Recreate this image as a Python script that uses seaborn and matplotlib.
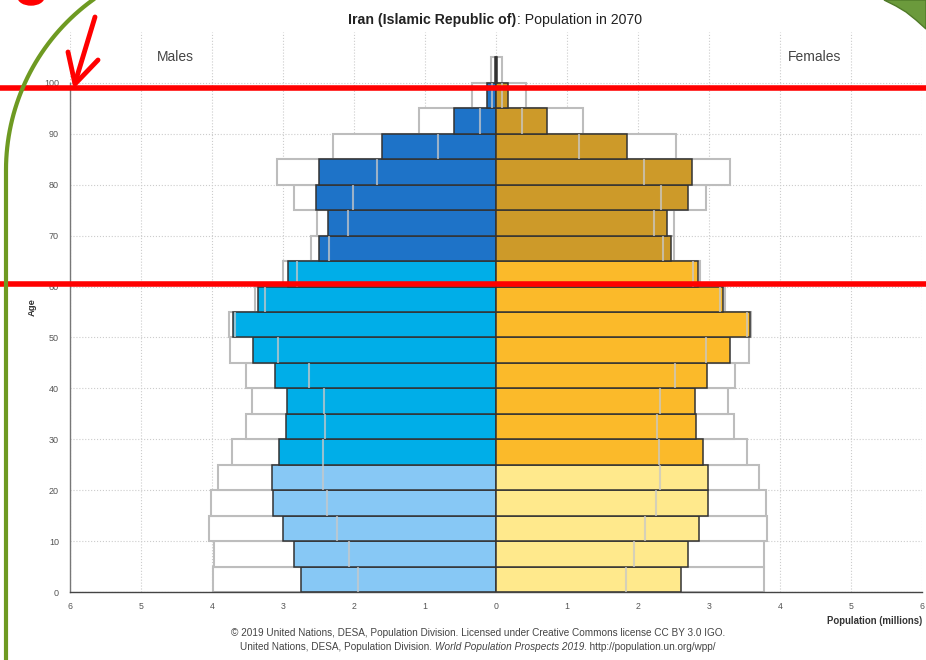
import numpy as np
import pandas as pd
import seaborn as sns
import matplotlib
matplotlib.use("Agg")
import matplotlib.pyplot as plt
from matplotlib.lines import Line2D
from matplotlib.patches import Polygon, Ellipse

age_groups = ['0-4', '5-9', '10-14', '15-19', '20-24', '25-29', '30-34', '35-39',
              '40-44', '45-49', '50-54', '55-59', '60-64', '65-69', '70-74', '75-79',
              '80-84', '85-89', '90-94', '95-99', '100+']
broad_group = ['0-24'] * 5 + ['25-64'] * 8 + ['65+'] * 8

# population in millions, 2070 (filled bars)
males_2070 = [2.75, 2.85, 3.00, 3.14, 3.15, 3.05, 2.96, 2.94, 3.11, 3.42, 3.71,
              3.35, 2.93, 2.50, 2.36, 2.54, 2.50, 1.60, 0.59, 0.13, 0.02]
females_2070 = [2.60, 2.70, 2.86, 2.98, 2.99, 2.91, 2.82, 2.80, 2.97, 3.29, 3.58,
                3.20, 2.85, 2.47, 2.41, 2.70, 2.76, 1.85, 0.72, 0.17, 0.02]
# grey outline boxes
males_outline = [3.98, 3.97, 4.04, 4.02, 3.91, 3.72, 3.52, 3.44, 3.52, 3.74, 3.76,
                 3.39, 3.00, 2.60, 2.52, 2.85, 3.09, 2.29, 1.09, 0.34, 0.075]
females_outline = [3.77, 3.77, 3.81, 3.80, 3.70, 3.53, 3.35, 3.27, 3.36, 3.57, 3.59,
                   3.22, 2.87, 2.50, 2.51, 2.96, 3.29, 2.54, 1.23, 0.42, 0.09]
# light marker lines inside the bars
males_marker = [1.94, 2.07, 2.24, 2.38, 2.43, 2.43, 2.41, 2.42, 2.64, 3.07, 3.68,
                3.25, 2.80, 2.35, 2.09, 2.02, 1.67, 0.81, 0.22, 0.06, 0.0]
females_marker = [1.83, 1.95, 2.10, 2.25, 2.31, 2.30, 2.27, 2.31, 2.52, 2.96, 3.53,
                  3.15, 2.78, 2.35, 2.23, 2.32, 2.09, 1.17, 0.36, 0.08, 0.0]

x_ticks = [-6, -5, -4, -3, -2, -1, 0, 1, 2, 3, 4, 5, 6]
y_ticks = [0, 10, 20, 30, 40, 50, 60, 70, 80, 90, 100]

palette = {
    'Males 0-24': '#87C8F5', 'Males 25-64': '#00AEE8', 'Males 65+': '#1E73C8',
    'Females 0-24': '#FFE98C', 'Females 25-64': '#FBBA2A', 'Females 65+': '#CD9A29',
}

age_low = np.array([int(a.rstrip('+').split('-')[0]) for a in age_groups])
age_mid = age_low + 2.5

df = pd.DataFrame({
    'age': np.concatenate([age_mid, age_mid]),
    'sex': ['Males'] * len(age_groups) + ['Females'] * len(age_groups),
    'pop': np.concatenate([-np.array(males_2070), females_2070]),
    'outline': np.concatenate([-np.array(males_outline), females_outline]),
    'marker': np.concatenate([-np.array(males_marker), females_marker]),
    'key': ['Males ' + b for b in broad_group] + ['Females ' + b for b in broad_group],
})

sns.set_style("white")
plt.rcParams['font.family'] = ['Liberation Sans', 'DejaVu Sans']

W, H = 926, 660
fig = plt.figure(figsize=(W / 100, H / 100), dpi=100)
ax = fig.add_axes([70 / W, (H - 592) / H, 852 / W, 560 / H])

# outline boxes behind
sns.barplot(data=df, x='outline', y='age', hue='sex', orient='y', native_scale=True,
            dodge=False, width=1, palette={'Males': 'white', 'Females': 'white'},
            edgecolor='#bdbdbd', linewidth=1.5, errorbar=None, legend=False, ax=ax)
# filled bars
sns.barplot(data=df, x='pop', y='age', hue='key', orient='y', native_scale=True,
            dodge=False, width=1, palette=palette, edgecolor='#333333',
            linewidth=1.1, errorbar=None, legend=False, saturation=1, ax=ax)

m = df[df['marker'] != 0]
ax.vlines(m['marker'], m['age'] - 2.5, m['age'] + 2.5, colors='#c8c8c8',
          alpha=0.75, linewidth=1.5, zorder=3)

ax.set_xlim(-6, 6)
ax.set_ylim(0, 110)
ax.set_xticks(x_ticks)
ax.set_xticklabels([str(abs(t)) for t in x_ticks])
ax.set_yticks(y_ticks)
ax.set_xlabel('')
ax.set_ylabel('')
ax.set_axisbelow(True)
ax.grid(True, linestyle=':', color='#cccccc', linewidth=0.8)
ax.tick_params(axis='x', direction='out', length=3, labelsize=6.3, colors='#555555', pad=4)
ax.tick_params(axis='y', direction='in', length=3, labelsize=6.5, colors='#555555', pad=8)
for s in ['top', 'right']:
    ax.spines[s].set_visible(False)
ax.spines['left'].set_bounds(0, 100)
ax.spines['left'].set_color('#777777')
ax.spines['bottom'].set_color('#444444')
ax.spines['left'].set_linewidth(1)
ax.spines['bottom'].set_linewidth(1)


def fx(x):
    return x / W


def fy(y):
    return 1 - y / H


def rich_text(parts, xc, yc, size, color):
    r = fig.canvas.get_renderer()
    texts = []
    for s, kw in parts:
        texts.append(fig.text(0, fy(yc), s, fontsize=size, color=color,
                              ha='left', va='center', **kw))
    widths = [t.get_window_extent(renderer=r).width for t in texts]
    x = xc - sum(widths) / 2
    for t, w in zip(texts, widths):
        t.set_x(fx(x))
        x += w


rich_text([('Iran (Islamic Republic of)', {'fontweight': 'bold'}),
           (': Population in 2070', {})], 495, 20, 10.2, '#222222')
fig.text(fx(175), fy(57), 'Males', fontsize=10, color='#444444', ha='center', va='center')
fig.text(fx(815), fy(57), 'Females', fontsize=10, color='#444444', ha='center', va='center')
fig.text(fx(32), fy(307), 'Age', fontsize=6.8, fontweight='bold', color='#333333',
         rotation=90, ha='center', va='center')
fig.text(fx(922), fy(621), 'Population (millions)', fontsize=6.9, fontweight='bold',
         color='#333333', ha='right', va='center')
fig.text(fx(478), fy(633), '© 2019 United Nations, DESA, Population Division. Licensed under '
         'Creative Commons license CC BY 3.0 IGO.', fontsize=7.2, color='#444444',
         ha='center', va='center')
rich_text([('United Nations, DESA, Population Division. ', {}),
           ('World Population Prospects 2019', {'fontstyle': 'italic'}),
           ('. http://population.un.org/wpp/', {})], 478, 647, 7.2, '#444444')

# annotations drawn over the screenshot
for yy in [88, 284]:
    fig.add_artist(Line2D([0, 1], [fy(yy), fy(yy)], transform=fig.transFigure,
                          color='#ff0000', linewidth=4))
fig.add_artist(Line2D([fx(95), fx(75)], [fy(17), fy(83)], transform=fig.transFigure,
                      color='#ff0000', linewidth=3.5, solid_capstyle='round'))
fig.add_artist(Line2D([fx(68), fx(75), fx(98)], [fy(52), fy(84), fy(60)],
                      transform=fig.transFigure, color='#ff0000', linewidth=3.5,
                      solid_capstyle='round', solid_joinstyle='round'))
fig.add_artist(Ellipse((fx(31), fy(-3)), 26 / W, 16 / H, transform=fig.transFigure,
                       color='#ff0000'))
theta = np.linspace(0, 1.05, 40)
cx, cy, rr = 216, 170, 210
arc_x = [6] + list(cx - rr * np.cos(theta))
arc_y = [H + 5] + list(cy - rr * np.sin(theta))
fig.add_artist(Line2D([fx(v) for v in arc_x], [fy(v) for v in arc_y],
                      transform=fig.transFigure, color='#6e9a22', linewidth=3))
fig.add_artist(Polygon([(fx(884), fy(0)), (fx(896), fy(6)), (fx(906), fy(12)),
                        (fx(916), fy(20)), (fx(926), fy(29)), (fx(926), fy(0))],
                       closed=True, transform=fig.transFigure,
                       facecolor='#6b9a3c', edgecolor='#4f7a28', linewidth=1))

fig.savefig('out.png', dpi=100)
